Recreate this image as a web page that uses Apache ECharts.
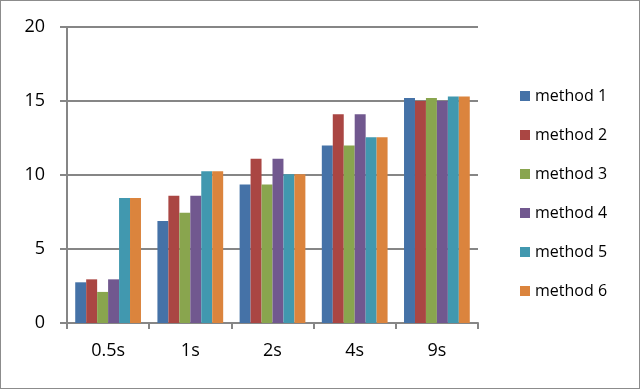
<!DOCTYPE html>
<html>
<head>
<meta charset="utf-8">
<script src="https://cdn.jsdelivr.net/npm/echarts@6/dist/echarts.min.js"></script>
<style>
  html, body { margin: 0; padding: 0; background: #fff; }
  #chart { width: 640px; height: 389px; box-sizing: border-box; border: 1px solid #8c8c8c; }
</style>
</head>
<body>
<div id="chart"></div>
<script>
  var categories = ['0.5s', '1s', '2s', '4s', '9s'];
  var method1 = [2.75, 6.9, 9.35, 12.0, 15.2];
  var method2 = [2.95, 8.6, 11.1, 14.1, 15.0];
  var method3 = [2.1, 7.45, 9.35, 12.0, 15.2];
  var method4 = [2.95, 8.6, 11.1, 14.1, 15.0];
  var method5 = [8.45, 10.25, 10.05, 12.55, 15.3];
  var method6 = [8.45, 10.25, 10.05, 12.55, 15.3];
  var seriesNames = ['method 1', 'method 2', 'method 3', 'method 4', 'method 5', 'method 6'];
  var seriesValues = [method1, method2, method3, method4, method5, method6];
  var colors = ['#4572a7', '#aa4643', '#89a54e', '#71588f', '#4198af', '#db843d'];

  var chartdata = seriesNames.map(function (name, i) {
    return {
      name: name,
      type: 'bar',
      data: seriesValues[i],
      barGap: '0%',
      barCategoryGap: '20%',
      itemStyle: { color: colors[i] }
    };
  });

  var barChart = echarts.init(document.getElementById('chart'));
  var option = {
    animation: false,
    color: colors,
    grid: { left: 66, right: 161, top: 26, bottom: 65 },
    legend: {
      orient: 'vertical',
      left: 514,
      top: 82,
      itemWidth: 10,
      itemHeight: 10,
      itemGap: 23,
      icon: 'rect',
      textStyle: { fontFamily: 'Open Sans', fontSize: 16, color: '#000' },
      data: seriesNames
    },
    xAxis: {
      type: 'category',
      data: categories,
      axisLine: { lineStyle: { color: '#868686', width: 2 } },
      axisTick: { show: true, length: 6, lineStyle: { color: '#868686', width: 2 } },
      axisLabel: { fontFamily: 'Open Sans', fontSize: 18, color: '#000', margin: 19 }
    },
    yAxis: {
      type: 'value',
      min: 0,
      max: 20,
      interval: 5,
      axisLine: { show: true, lineStyle: { color: '#868686', width: 2 } },
      axisTick: { show: true, length: 7, lineStyle: { color: '#868686', width: 2 } },
      splitLine: { lineStyle: { color: '#868686', width: 2 } },
      axisLabel: { fontFamily: 'Open Sans', fontSize: 18, color: '#000', margin: 22 }
    },
    series: chartdata
  };
  barChart.setOption(option);
</script>
</body>
</html>
